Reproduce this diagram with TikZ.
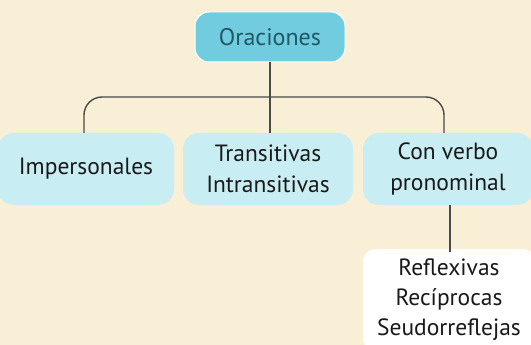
\documentclass[tikz,border=0pt]{standalone}
\usepackage{fontspec}
\setmainfont{PT Sans}
\definecolor{bg}{HTML}{F8EFD6}
\definecolor{topfill}{HTML}{72CCDF}
\definecolor{boxfill}{HTML}{C8EDF3}
\definecolor{linec}{HTML}{4A4A48}
\definecolor{toptext}{HTML}{1F5A64}
\begin{document}
\begin{tikzpicture}[x=1pt,y=-1pt,
  catbox/.style={fill=boxfill,rounded corners=16pt,minimum width=170pt,minimum height=72pt,align=center,font=\fontsize{23.5}{31}\selectfont,text=black!90},
  conn/.style={draw=linec,line width=1.4pt}]
\fill[bg] (0,0) rectangle (531,345);
\useasboundingbox (0,0) rectangle (531,345);
\node[fill=topfill,draw=white,line width=1pt,rounded corners=14pt,minimum width=150pt,minimum height=50pt,font=\fontsize{24}{28}\selectfont,text=toptext] (top) at (270,37) {Oraciones};
\node[catbox,minimum width=176pt] (imp) at (86,169) {Impersonales};
\node[catbox,minimum width=170pt] (tra) at (268,169) {Transitivas\\Intransitivas};
\node[catbox,minimum width=170pt] (con) at (448,169) {Con verbo\\pronominal};
\node[fill=white,rounded corners=12pt,minimum width=172pt,minimum height=102pt,align=center,font=\fontsize{23.5}{30}\selectfont,text=black!90] (ref) at (449,300) {Reflexivas\\Recíprocas\\Seudorreflejas};
\coordinate (mid) at (top.south |- 0,97);
\draw[conn] (top.south) -- (mid);
\draw[conn,rounded corners=18pt] (imp.north -| 84,0) -- (84,97) -- (444,97) -- (con.north -| 444,0);
\draw[conn] (mid) -- (tra.north -| mid);
\draw[conn] (con.south -| 450,0) -- ([yshift=-3pt]ref.north -| 450,0);
\end{tikzpicture}
\end{document}
